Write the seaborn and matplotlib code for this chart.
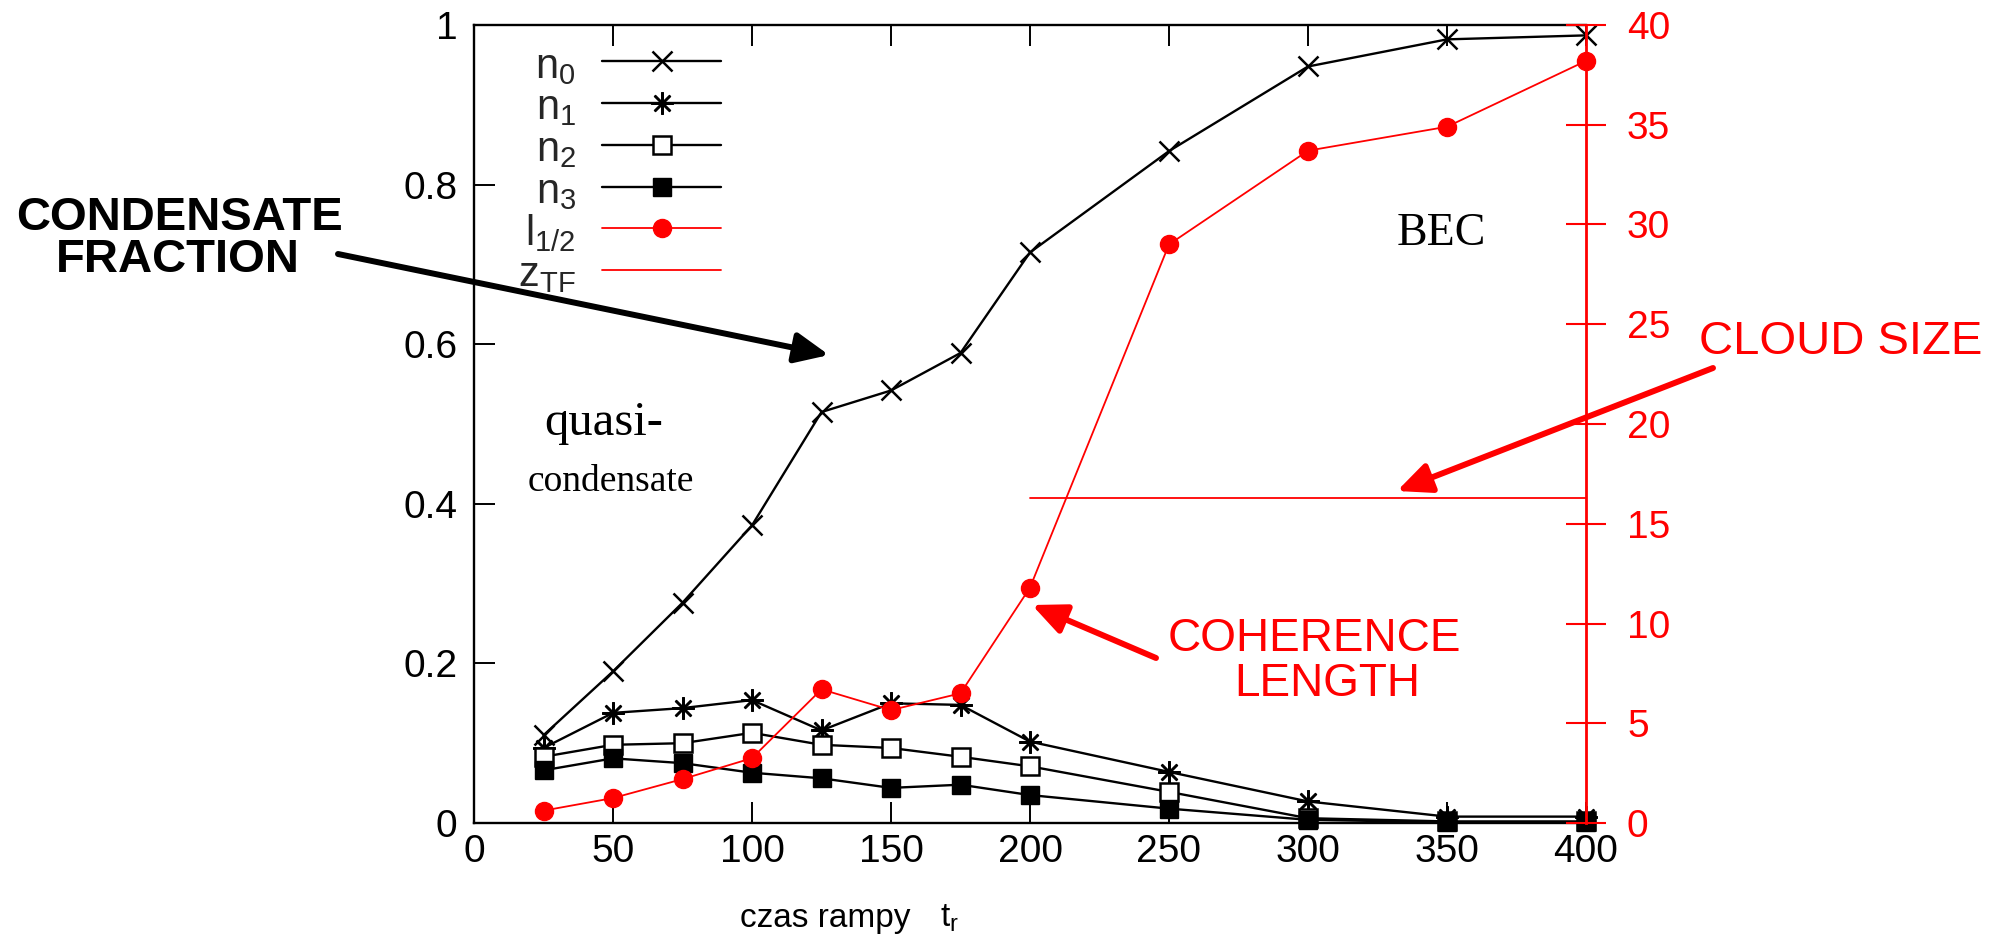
import matplotlib
matplotlib.use("Agg")
import matplotlib.pyplot as plt
from matplotlib import font_manager
import seaborn as sns

# ramp time t_r
t_ramp = [25, 50, 75, 100, 125, 150, 175, 200, 250, 300, 350, 400]
# occupation fractions of the lowest modes
n0 = [0.110, 0.190, 0.276, 0.373, 0.515, 0.542, 0.589, 0.715, 0.842, 0.948, 0.982, 0.987]
n1 = [0.094, 0.138, 0.144, 0.154, 0.116, 0.150, 0.148, 0.102, 0.064, 0.027, 0.008, 0.008]
n2 = [0.083, 0.098, 0.100, 0.113, 0.098, 0.094, 0.083, 0.071, 0.039, 0.006, 0.002, 0.002]
n3 = [0.066, 0.081, 0.075, 0.063, 0.056, 0.044, 0.048, 0.035, 0.018, 0.004, 0.001, 0.001]
# coherence length l_1/2 (right axis)
l_half = [0.62, 1.25, 2.2, 3.25, 6.7, 5.66, 6.5, 11.8, 29.0, 33.7, 34.9, 38.2]
# Thomas-Fermi cloud size (right axis)
z_tf_t = [200, 400]
z_tf = [16.3, 16.3]

x_ticks = [0, 50, 100, 150, 200, 250, 300, 350, 400]
left_ticks = [0, 0.2, 0.4, 0.6, 0.8, 1]
left_ticklabels = ["0", "0.2", "0.4", "0.6", "0.8", "1"]
right_ticks = [0, 5, 10, 15, 20, 25, 30, 35, 40]

labels = [r"$\mathregular{n_0}$", r"$\mathregular{n_1}$", r"$\mathregular{n_2}$",
          r"$\mathregular{n_3}$", r"$\mathregular{l_{1/2}}$", r"$\mathregular{z_{TF}}$"]

sns.set_theme(style="ticks")
plt.rcParams["font.family"] = ["Liberation Sans", "DejaVu Sans"]
plt.rcParams["mathtext.fontset"] = "custom"
plt.rcParams["mathtext.rm"] = "Liberation Sans"

installed = {f.name for f in font_manager.fontManager.ttflist}
narrow = "Liberation Sans Narrow" in installed

W, H = 2000, 939
fig = plt.figure(figsize=(W / 100, H / 100), dpi=100)
fig.patch.set_facecolor("white")
ax = fig.add_axes([474 / W, 1 - 823 / H, 1112 / W, 798 / H])
ax2 = ax.twinx()

RED = "#ff0000"
blw = 1.7
common = dict(estimator=None, clip_on=False, linewidth=blw, color="black")

sns.lineplot(x=t_ramp, y=n0, ax=ax, marker="x", markersize=15,
             markeredgewidth=1.8, markeredgecolor="black", label=labels[0], **common)
sns.lineplot(x=t_ramp, y=n1, ax=ax, marker=(8, 2, 0), markersize=16,
             markeredgewidth=1.8, markeredgecolor="black", label=labels[1], **common)
sns.lineplot(x=t_ramp, y=n2, ax=ax, marker="s", markersize=13, markerfacecolor="white",
             markeredgewidth=1.8, markeredgecolor="black", label=labels[2], **common)
sns.lineplot(x=t_ramp, y=n3, ax=ax, marker="s", markersize=13, markerfacecolor="black",
             markeredgewidth=1.0, markeredgecolor="black", label=labels[3], **common)

sns.lineplot(x=t_ramp, y=l_half, ax=ax2, marker="o", markersize=13, color=RED,
             markerfacecolor=RED, markeredgecolor=RED, markeredgewidth=1.0,
             linewidth=1.3, estimator=None, clip_on=False, label=labels[4])
sns.lineplot(x=z_tf_t, y=z_tf, ax=ax2, color=RED, linewidth=1.3,
             estimator=None, clip_on=False, label=labels[5])

# axes limits and ticks
ax.set_xlim(0, 400)
ax.set_ylim(0, 1)
ax2.set_ylim(0, 40)
ax.set_xticks(x_ticks)
ax.set_xticklabels([str(v) for v in x_ticks])
ax.set_yticks(left_ticks)
ax.set_yticklabels(left_ticklabels)
ax2.set_yticks(right_ticks)
ax2.set_yticklabels([str(v) for v in right_ticks])
ax.set_xlabel("")
ax.set_ylabel("")
ax2.set_ylabel("")

spine_w = 1.7
for side in ["left", "bottom", "top"]:
    ax.spines[side].set_visible(True)
    ax.spines[side].set_color("black")
    ax.spines[side].set_linewidth(spine_w)
ax.spines["right"].set_visible(False)
for side in ["left", "bottom", "top"]:
    ax2.spines[side].set_visible(False)
ax2.spines["right"].set_color(RED)
ax2.spines["right"].set_linewidth(2.0)

ax.tick_params(axis="x", which="both", direction="in", length=15, width=1.4,
               top=True, bottom=True, labelsize=28, pad=8, colors="black")
ax.tick_params(axis="y", which="both", direction="in", length=15, width=1.4,
               left=True, right=False, labelsize=28, pad=12, colors="black")
ax2.tick_params(axis="y", which="both", direction="inout", length=29, width=1.5,
                right=True, left=False, labelsize=28, pad=15, colors=RED)
ax.grid(False)
ax2.grid(False)

# legend: labels on the left, samples on the right
for a in (ax, ax2):
    lg = a.get_legend()
    if lg is not None:
        lg.remove()
h1, l1 = ax.get_legend_handles_labels()
h2, l2 = ax2.get_legend_handles_labels()
fs_leg = 30
fs_px = fs_leg * 100 / 72
leg = ax2.legend(h1 + h2, l1 + l2, loc="upper right",
                 bbox_to_anchor=((721 - 474) / 1112, (823 - 45) / 798),
                 markerfirst=False, frameon=False, fontsize=fs_leg,
                 handlelength=119 / fs_px, handletextpad=26 / fs_px,
                 handleheight=41 / fs_px, labelspacing=0.0,
                 borderpad=0, borderaxespad=0)


def fx(x):
    return x / W


def fy(y):
    return 1 - y / H


# x-axis title placed under the left part of the axis
if narrow:
    xl_font, xl_size = "Liberation Sans Narrow", 29
else:
    xl_font, xl_size = "Liberation Sans", 24
fig.text(fx(740), fy(927), "czas rampy", fontsize=xl_size, family=xl_font,
         ha="left", va="baseline", color="black")
fig.text(fx(940), fy(927), r"$\mathregular{t_r}$", fontsize=xl_size, family=xl_font,
         ha="left", va="baseline", color="black")

# phase labels
fig.text(fx(604), fy(423), "quasi-", fontsize=35, family="Liberation Serif",
         ha="center", va="center", color="black")
fig.text(fx(611), fy(482), "condensate", fontsize=27, family="Liberation Serif",
         ha="center", va="center", color="black")
fig.text(fx(1441), fy(245), "BEC", fontsize=33, family="Liberation Serif",
         ha="center", va="baseline", color="black")

# callouts
fig.text(fx(180), fy(230), "CONDENSATE", fontsize=34, fontweight="bold",
         ha="center", va="baseline", color="black")
fig.text(fx(178), fy(272), "FRACTION", fontsize=34, fontweight="bold",
         ha="center", va="baseline", color="black")
fig.text(fx(1841), fy(354), "CLOUD SIZE", fontsize=34,
         ha="center", va="baseline", color=RED)
fig.text(fx(1314), fy(651), "COHERENCE", fontsize=33,
         ha="center", va="baseline", color=RED)
fig.text(fx(1327), fy(696), "LENGTH", fontsize=33,
         ha="center", va="baseline", color=RED)

arrow_style = "-|>,head_length=0.6,head_width=0.27"


def arrow(tail, tip, color):
    ax2.annotate("", xy=(tip[0], H - tip[1]), xytext=(tail[0], H - tail[1]),
                 xycoords="figure pixels", textcoords="figure pixels",
                 annotation_clip=False,
                 arrowprops=dict(arrowstyle=arrow_style, lw=4.3, color=color,
                                 mutation_scale=34, shrinkA=0, shrinkB=0))


arrow((338, 254), (829, 355), "black")
arrow((1713, 368), (1397, 491), RED)
arrow((1156, 658), (1032, 605), RED)

fig.savefig("out.png", dpi=100, facecolor="white")
